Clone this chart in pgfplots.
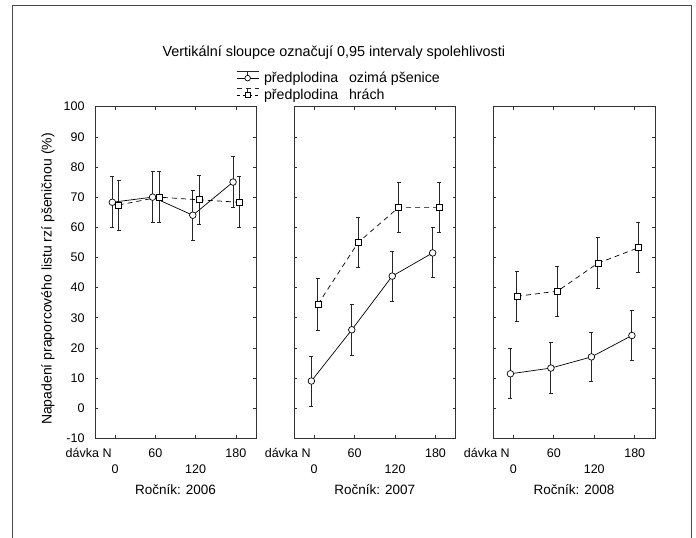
\documentclass[border=0pt]{standalone}
\usepackage{fontspec}
\setmainfont{Liberation Sans}
\usepackage{pgfplots}
\pgfplotsset{compat=1.18}

\newcommand{\tickfont}{\fontsize{12.5}{14}\selectfont}
\newcommand{\labfont}{\fontsize{13.5}{16}\selectfont}
\newcommand{\ylabfont}{\fontsize{14}{16}\selectfont}
\newcommand{\titfont}{\fontsize{14.4}{16}\selectfont}
\newcommand{\legfont}{\fontsize{14.2}{16}\selectfont}

\pgfplotsset{
  panel/.style={
    scale only axis, width=161pt, height=331.6pt, anchor=south west,
    xmin=-0.5, xmax=3.5, ymin=-10, ymax=100,
    xtick={0,1,2,3},
    xticklabels={\raisebox{-16.5pt}{0},60,\raisebox{-16.5pt}{120},180},
    ytick={-10,0,10,20,30,40,50,60,70,80,90,100},
    tick align=inside, major tick length=3pt,
    every tick/.style={black!80, line width=0.6pt},
    axis line style={black!80, line width=0.8pt},
    xticklabel style={anchor=base, yshift=-18.9pt, font=\tickfont},
    yticklabel style={font=\tickfont, xshift=-7pt},
    /pgf/number format/assume math mode=true,
    clip=false,
  },
  ebars/.style={
    error bars/y dir=both, error bars/y explicit,
    error bars/error bar style={line width=0.9pt, black!85, solid},
    error bars/error mark options={rotate=90, mark size=2pt, line width=0.9pt, black!85, solid}},
  circ/.style={black, line width=0.7pt, solid, mark=*,
    mark size=3.3pt, mark options={fill=white, draw=black, solid, line width=0.7pt}, ebars},
  sqr/.style={black, line width=0.7pt, dash pattern=on 5pt off 4pt, mark=square*,
    mark size=3pt, mark options={fill=white, draw=black, solid, line width=0.7pt}, ebars},
}

\begin{document}
\begin{tikzpicture}
\useasboundingbox (0pt,0pt) rectangle (696pt,538pt);
\draw[line width=1.2pt, black!70] (12.3pt,-2pt) -- (12.3pt,532.7pt) -- (691.5pt,532.7pt) -- (691.5pt,-2pt);

\node[anchor=base, font=\titfont] at (333.9pt,481pt) {Vertikální sloupce označují 0,95 intervaly spolehlivosti};
\node[rotate=90, font=\ylabfont] at (48pt,259pt) {Napadení praporcového listu rzí pšeničnou (\%)};

% ---------- 2006 ----------
\begin{axis}[panel, at={(95pt,99.7pt)},
  legend style={draw=none, fill=none, at={(axis description cs:0.8758,1.1107)}, anchor=north west,
    font=\legfont, inner sep=0pt, row sep=1pt, cells={anchor=west}},
  legend cell align=left]
\addplot[circ,
  legend image code/.code={
    \draw[black, line width=0.7pt] (0pt,0pt) -- (22pt,0pt);
    \draw[black!85, line width=0.9pt] (0pt,6.7pt) -- (22pt,6.7pt);
    \draw[black!85, line width=0.9pt] (11pt,6.7pt) -- (11pt,0pt);
    \draw[black, fill=white, line width=0.7pt] (11pt,0pt) circle (2.8pt);
    \path (0pt,-6.7pt);
  }] table[x=x, y=y, y error=e] {
x y e
-0.07 68.3 8.4
0.93 70.0 8.4
1.93 64.0 8.3
2.93 75.0 8.4
};
\addlegendentry{\hspace*{3pt}\makebox[85pt][l]{předplodina}ozimá pšenice}
\addplot[sqr,
  legend image code/.code={
    \draw[black, line width=0.7pt, dash pattern=on 3pt off 3pt] (0pt,0pt) -- (22pt,0pt);
    \draw[black!85, line width=0.9pt] (0pt,6.7pt) -- (22pt,6.7pt);
    \draw[black!85, line width=0.9pt] (11pt,6.7pt) -- (11pt,0pt);
    \draw[black, fill=white, line width=0.7pt, solid] (8.4pt,-2.6pt) rectangle (13.6pt,2.6pt);
    \path (0pt,-6.7pt);
  }] table[x=x, y=y, y error=e] {
x y e
0.09 67.4 8.3
1.09 70.0 8.4
2.09 69.1 8.2
3.09 68.3 8.4
};
\addlegendentry{\hspace*{3pt}\makebox[85pt][l]{předplodina}hrách}
\node[anchor=base east, yshift=-18.9pt, font=\tickfont] at (axis cs:0,-10) {dávka N};
\node[anchor=base, yshift=-55.7pt, font=\labfont] at (rel axis cs:0.5,0) {Ročník: 2006};
\end{axis}

% ---------- 2007 ----------
\begin{axis}[panel, at={(294pt,99.7pt)}, width=161.7pt, yticklabels={}]
\addplot[circ] table[x=x, y=y, y error=e] {
x y e
-0.07 9.0 8.3
0.93 26.0 8.4
1.93 43.8 8.3
2.93 51.5 8.3
};
\addplot[sqr] table[x=x, y=y, y error=e] {
x y e
0.09 34.4 8.5
1.09 55.0 8.4
2.09 66.6 8.2
3.09 66.6 8.2
};
\node[anchor=base east, yshift=-18.9pt, font=\tickfont] at (axis cs:0,-10) {dávka N};
\node[anchor=base, yshift=-55.7pt, font=\labfont] at (rel axis cs:0.5,0) {Ročník: 2007};
\end{axis}

% ---------- 2008 ----------
\begin{axis}[panel, at={(493pt,99.7pt)}, width=162pt, yticklabels={}]
\addplot[circ] table[x=x, y=y, y error=e] {
x y e
-0.07 11.4 8.3
0.93 13.3 8.4
1.93 17.0 8.2
2.93 24.1 8.2
};
\addplot[sqr] table[x=x, y=y, y error=e] {
x y e
0.09 37.1 8.3
1.09 38.8 8.3
2.09 48.1 8.4
3.09 53.2 8.3
};
\node[anchor=base east, yshift=-18.9pt, font=\tickfont] at (axis cs:0,-10) {dávka N};
\node[anchor=base, yshift=-55.7pt, font=\labfont] at (rel axis cs:0.5,0) {Ročník: 2008};
\end{axis}
\end{tikzpicture}
\end{document}
